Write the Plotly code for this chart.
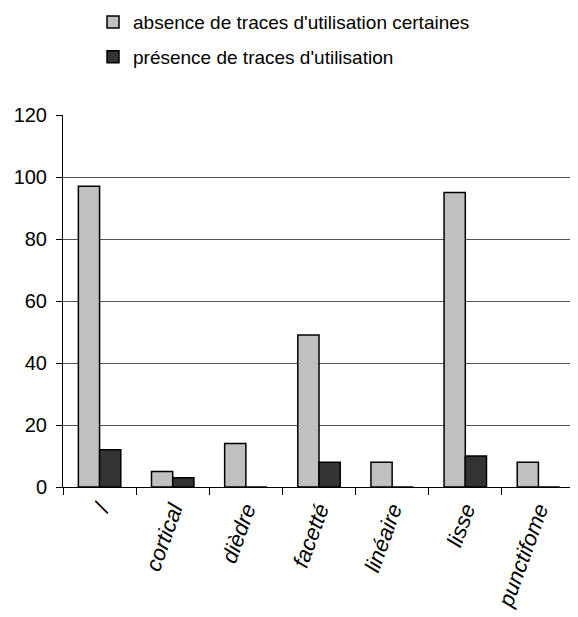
import plotly.graph_objects as go

categories = ["/", "cortical", "dièdre", "facetté", "linéaire", "lisse", "punctifome"]
absence = [97, 5, 14, 49, 8, 95, 8]
presence = [12, 3, 0, 8, 0, 10, 0]
series_names = ["absence de traces d'utilisation certaines", "présence de traces d'utilisation"]
y_ticks = [0, 20, 40, 60, 80, 100, 120]

font_family = "Liberation Sans, Arial, sans-serif"

# page has an 8px body margin: figure spans page x 8..578, y 8..617
fig = go.Figure()
fig.add_trace(go.Bar(x=categories, y=absence, name=series_names[0],
                     marker=dict(color="#c0c0c0", line=dict(color="black", width=1.5)),
                     legend="legend"))
fig.add_trace(go.Bar(x=categories, y=presence, name=series_names[1],
                     marker=dict(color="#333333", line=dict(color="black", width=1.5)),
                     legend="legend2"))

fig.update_layout(
    width=570, height=609,
    margin=dict(l=55, r=3, t=107, b=130, autoexpand=False),
    paper_bgcolor="white", plot_bgcolor="white",
    font=dict(family=font_family, size=19, color="black"),
    barmode="group", bargap=0.42, bargroupgap=0,
    legend=dict(x=0.0586, y=1.301, xanchor="left", yanchor="top",
                font=dict(size=19), itemwidth=30, bgcolor="rgba(0,0,0,0)"),
    legend2=dict(x=0.0586, y=1.207, xanchor="left", yanchor="top",
                 font=dict(size=19), itemwidth=30, bgcolor="rgba(0,0,0,0)"),
    showlegend=True,
)
fig.update_xaxes(
    type="category", tickson="boundaries", ticks="outside", ticklen=7,
    tickcolor="black", showline=True, linecolor="black", linewidth=1,
    tickangle=-70, tickfont=dict(size=22, style="italic"), showgrid=False,
    automargin=False,
)
fig.update_yaxes(
    range=[0, 120], tickvals=y_ticks, ticks="outside", ticklen=6, tickcolor="black",
    showline=True, linecolor="black", linewidth=1,
    showgrid=True, gridcolor="#555555", gridwidth=1, zeroline=False,
    tickfont=dict(size=20), automargin=False, ticklabelstandoff=5,
)
fig.write_html("out.html")
